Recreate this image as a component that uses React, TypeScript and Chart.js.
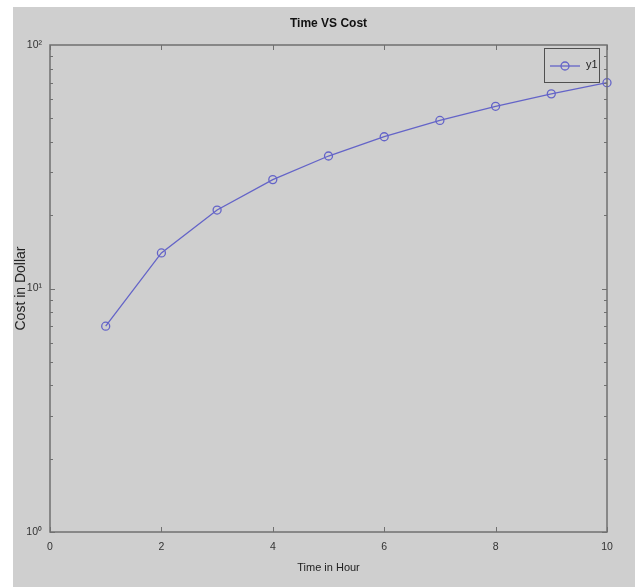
import React, { useEffect, useRef } from "react";
import { Chart, registerables } from "chart.js";

Chart.register(...registerables);

const timeHours = [1, 2, 3, 4, 5, 6, 7, 8, 9, 10];
const costDollars = [7, 14, 21, 28, 35, 42, 49, 56, 63, 70];
const xTickValues = [0, 2, 4, 6, 8, 10];
const yTickValues = [1, 10, 100];
const yTickLabels: Record<number, string> = { 1: "10\u2070", 10: "10\u00b9", 100: "10\u00b2" };
const seriesName = "y1";

const LINE_COLOR = "#6464c8";
const AXIS_COLOR = "#707070";
const BG_GRAY = "#cfcfcf";
const FONT = "'Liberation Sans', Arial, sans-serif";

export default function App() {
  const ref = useRef<HTMLCanvasElement | null>(null);

  useEffect(() => {
    document.body.style.margin = "0";
    const canvas = ref.current!;

    const bgPlugin = {
      id: "bgPlugin",
      beforeDraw(chart: any) {
        const ctx = chart.ctx;
        ctx.save();
        ctx.fillStyle = "#ffffff";
        ctx.fillRect(0, 0, chart.width, chart.height);
        ctx.fillStyle = BG_GRAY;
        ctx.fillRect(13, 7, 622, chart.height - 7);
        ctx.restore();
      },
    };

    const boxPlugin = {
      id: "boxPlugin",
      afterDatasetsDraw(chart: any) {
        const ctx = chart.ctx;
        const { left, right, top, bottom } = chart.chartArea;
        const xs = chart.scales.x;
        const ys = chart.scales.y;
        ctx.save();
        ctx.strokeStyle = AXIS_COLOR;
        ctx.lineWidth = 1;
        ctx.beginPath();
        xTickValues.forEach((v) => {
          const px = Math.round(xs.getPixelForValue(v)) + 0.5;
          ctx.moveTo(px, bottom);
          ctx.lineTo(px, bottom - 5);
          ctx.moveTo(px, top);
          ctx.lineTo(px, top + 5);
        });
        for (let dec = 1; dec <= 10; dec *= 10) {
          for (let m = 1; m <= 9; m++) {
            const v = dec * m;
            if (v > 100) continue;
            const py = Math.round(ys.getPixelForValue(v)) + 0.5;
            const len = m === 1 ? 5 : 3;
            ctx.moveTo(left, py);
            ctx.lineTo(left + len, py);
            ctx.moveTo(right, py);
            ctx.lineTo(right - len, py);
          }
        }
        ctx.stroke();
        ctx.lineWidth = 1.5;
        ctx.strokeRect(left, top, right - left, bottom - top);

        const lx = 544, ly = 48, lw = 55, lh = 34;
        ctx.lineWidth = 1;
        ctx.strokeStyle = "#505050";
        ctx.strokeRect(lx + 0.5, ly + 0.5, lw, lh);
        ctx.strokeStyle = LINE_COLOR;
        ctx.lineWidth = 1.3;
        ctx.beginPath();
        ctx.moveTo(lx + 6, ly + 18);
        ctx.lineTo(lx + 36, ly + 18);
        ctx.stroke();
        ctx.beginPath();
        ctx.arc(lx + 21, ly + 18, 4, 0, Math.PI * 2);
        ctx.stroke();
        ctx.fillStyle = "#222";
        ctx.font = `11px ${FONT}`;
        ctx.textBaseline = "middle";
        ctx.fillText(seriesName, lx + 42, ly + 17);
        ctx.restore();
      },
    };

    const chart = new Chart(canvas, {
      type: "line",
      data: {
        datasets: [
          {
            label: seriesName,
            data: timeHours.map((t, i) => ({ x: t, y: costDollars[i] })),
            borderColor: LINE_COLOR,
            backgroundColor: "rgba(0,0,0,0)",
            borderWidth: 1.3,
            pointRadius: 4,
            pointBorderWidth: 1.3,
            pointBorderColor: LINE_COLOR,
            pointBackgroundColor: "rgba(0,0,0,0)",
            tension: 0,
            clip: false,
          },
        ],
      },
      plugins: [bgPlugin, boxPlugin],
      options: {
        responsive: false,
        animation: false,
        devicePixelRatio: 1,
        layout: { padding: { left: 0, right: 31, top: 0, bottom: 0 } },
        plugins: {
          legend: { display: false },
          tooltip: { enabled: false },
          title: {
            display: true,
            fullSize: false,
            text: "Time VS Cost",
            color: "#111",
            font: { family: FONT, size: 12, weight: "bold" },
            padding: { top: 16, bottom: 14.6 },
          },
        },
        scales: {
          x: {
            type: "linear",
            min: 0,
            max: 10,
            grid: { display: false, drawTicks: false },
            border: { display: false },
            afterBuildTicks(scale: any) {
              scale.ticks = xTickValues.map((v) => ({ value: v }));
            },
            afterFit(scale: any) {
              scale.height = 55;
            },
            ticks: {
              color: "#333",
              font: { family: FONT, size: 10.5 },
              padding: 9,
              maxRotation: 0,
            },
            title: {
              display: true,
              text: "Time in Hour",
              color: "#222",
              font: { family: FONT, size: 11 },
              padding: { top: 4, bottom: 12 },
            },
          },
          y: {
            type: "logarithmic",
            min: 1,
            max: 100,
            grid: { display: false, drawTicks: false },
            border: { display: false },
            afterBuildTicks(scale: any) {
              scale.ticks = yTickValues.map((v) => ({ value: v, major: true }));
            },
            afterFit(scale: any) {
              scale.width = 50;
            },
            ticks: {
              color: "#333",
              font: { family: FONT, size: 10.5 },
              padding: 8,
              callback: (v: any) => yTickLabels[Number(v)] ?? "",
            },
            title: {
              display: true,
              text: "Cost in Dollar",
              color: "#222",
              font: { family: FONT, size: 14 },
              padding: { top: 13, bottom: 0 },
            },
          },
        },
      },
    } as any);

    return () => chart.destroy();
  }, []);

  return <canvas ref={ref} width={638} height={587} style={{ display: "block" }} />;
}
